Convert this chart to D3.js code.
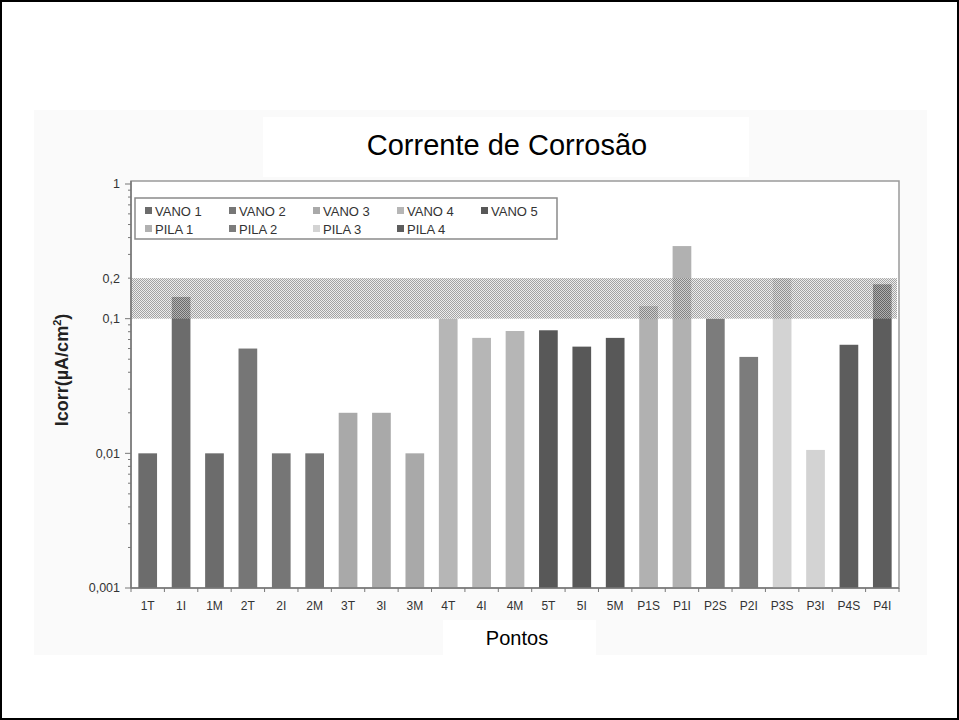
<!DOCTYPE html>
<html>
<head>
<meta charset="utf-8">
<script src="https://cdn.jsdelivr.net/npm/d3@7"></script>
<style>
  html, body { margin: 0; padding: 0; background: #fff; }
  svg { display: block; }
  text { font-family: Arial, "Liberation Sans", sans-serif; }
</style>
</head>
<body>
<svg id="chart" width="959" height="720"></svg>
<script>
// Measurement points along the bridge
const categories = ["1T","1I","1M","2T","2I","2M","3T","3I","3M","4T","4I","4M","5T","5I","5M","P1S","P1I","P2S","P2I","P3S","P3I","P4S","P4I"];
// Group (span / pier) each point belongs to
const groupOf = ["VANO 1","VANO 1","VANO 1","VANO 2","VANO 2","VANO 2","VANO 3","VANO 3","VANO 3","VANO 4","VANO 4","VANO 4","VANO 5","VANO 5","VANO 5","PILA 1","PILA 1","PILA 2","PILA 2","PILA 3","PILA 3","PILA 4","PILA 4"];
// Corrosion current density, µA/cm²
const icorr = [0.01,0.145,0.01,0.06,0.01,0.01,0.02,0.02,0.01,0.1,0.072,0.081,0.082,0.062,0.072,0.124,0.346,0.1,0.052,0.2,0.0106,0.064,0.18];
// Legend order and fills
const groups = ["VANO 1","VANO 2","VANO 3","VANO 4","VANO 5","PILA 1","PILA 2","PILA 3","PILA 4"];
const groupColors = ["#6c6c6c","#767676","#a9a9a9","#b6b6b6","#585858","#b1b1b1","#7c7c7c","#d3d3d3","#5d5d5d"];
// Y axis labels and the shaded reference band
const yTickValues = [0.001,0.01,0.1,0.2,1];
const yTickLabels = ["0,001","0,01","0,1","0,2","1"];
const band = [0.1, 0.2];

const svg = d3.select("#chart");
const W = 959, H = 720;

// Outer frame
svg.append("rect").attr("x",1).attr("y",1).attr("width",W-2).attr("height",H-2)
  .attr("fill","#fff").attr("stroke","#000").attr("stroke-width",2);

// Light chart panel
svg.append("rect").attr("x",34).attr("y",110).attr("width",893).attr("height",545).attr("fill","#fafafa");
// White boxes behind title and axis title
svg.append("rect").attr("x",263).attr("y",117).attr("width",486).attr("height",60).attr("fill","#fff");
svg.append("rect").attr("x",443).attr("y",620).attr("width",153).attr("height",35).attr("fill","#fff");

const m = {left:131, right:899, top:184, bottom:588};

const x = d3.scaleBand().domain(categories).range([m.left, m.right]).paddingInner(0.44).paddingOuter(0.22);
const y = d3.scaleLog().domain([0.001, 1]).range([m.bottom, m.top]);
const color = d3.scaleOrdinal().domain(groups).range(groupColors);

// Plot area background and frame
svg.append("rect").attr("x",m.left).attr("y",181).attr("width",m.right-m.left).attr("height",m.bottom-181)
  .attr("fill","#fff").attr("stroke","#9a9a9a").attr("stroke-width",1.5);

// Bars
svg.append("g").selectAll("rect").data(categories).join("rect")
  .attr("x", d => x(d))
  .attr("width", x.bandwidth())
  .attr("y", (d,i) => y(icorr[i]))
  .attr("height", (d,i) => y(0.001) - y(icorr[i]))
  .attr("fill", (d,i) => color(groupOf[i]));

// Dotted hatch pattern for the reference band
const defs = svg.append("defs");
const pat = defs.append("pattern").attr("id","dots").attr("width",2).attr("height",2).attr("patternUnits","userSpaceOnUse");
pat.append("rect").attr("x",0).attr("y",0).attr("width",1).attr("height",1).attr("fill","#6a6a6a");
pat.append("rect").attr("x",1).attr("y",1).attr("width",1).attr("height",1).attr("fill","#6a6a6a");
pat.append("rect").attr("x",1).attr("y",0).attr("width",1).attr("height",1).attr("fill","#e2e2e2");
pat.append("rect").attr("x",0).attr("y",1).attr("width",1).attr("height",1).attr("fill","#e2e2e2");

svg.append("rect").attr("x",m.left).attr("width",m.right-m.left-2)
  .attr("y", y(band[1])).attr("height", y(band[0]) - y(band[1]))
  .attr("fill","url(#dots)").attr("opacity",0.62);

// Y axis: decade labels plus minor ticks
const minor = [];
for (let e = -3; e < 0; e++) for (let k = 2; k <= 9; k++) minor.push(k * Math.pow(10, e));
const yAxis = svg.append("g").attr("transform",`translate(${m.left},0)`);
yAxis.append("line").attr("y1",181).attr("y2",m.bottom).attr("stroke","#777").attr("stroke-width",1.5);
yAxis.selectAll("line.minor").data(minor).join("line").attr("class","minor")
  .attr("x1",-3).attr("x2",0).attr("y1",d=>y(d)).attr("y2",d=>y(d)).attr("stroke","#777");
yAxis.selectAll("line.major").data([0.001,0.01,0.1,1]).join("line").attr("class","major")
  .attr("x1",-6).attr("x2",0).attr("y1",d=>y(d)).attr("y2",d=>y(d)).attr("stroke","#777");
yAxis.selectAll("text").data(yTickValues).join("text")
  .attr("x",-11).attr("y",d=>y(d)).attr("dy","0.35em").attr("text-anchor","end")
  .attr("font-size",12.5).attr("fill","#333")
  .text((d,i)=>yTickLabels[i]);

// X axis
const xAxis = svg.append("g").attr("transform",`translate(0,${m.bottom})`);
xAxis.append("line").attr("x1",m.left).attr("x2",m.right).attr("stroke","#777").attr("stroke-width",1.5);
const bounds = d3.range(categories.length + 1).map(i => m.left + (m.right - m.left) * i / categories.length);
xAxis.selectAll("line.tick").data(bounds).join("line").attr("class","tick")
  .attr("x1",d=>d).attr("x2",d=>d).attr("y1",0).attr("y2",4).attr("stroke","#777");
xAxis.selectAll("text").data(categories).join("text")
  .attr("x", d => x(d) + x.bandwidth()/2).attr("y",22)
  .attr("text-anchor","middle").attr("font-size",12).attr("fill","#333")
  .text(d => d);

// Titles
svg.append("text").attr("x",507).attr("y",155).attr("text-anchor","middle")
  .attr("font-size",29).attr("fill","#000").text("Corrente de Corrosão");
svg.append("text").attr("x",517).attr("y",645).attr("text-anchor","middle")
  .attr("font-size",20).attr("fill","#000").text("Pontos");
const yt = svg.append("text").attr("transform","translate(68,370) rotate(-90)")
  .attr("text-anchor","middle").attr("font-size",18).attr("font-weight","bold").attr("fill","#222");
yt.append("tspan").text("Icorr(µA/cm");
yt.append("tspan").attr("dy",-7).attr("font-size",11).text("2");
yt.append("tspan").attr("dy",7).text(")");

// Legend
const lg = svg.append("g");
lg.append("rect").attr("x",135).attr("y",198).attr("width",422).attr("height",41)
  .attr("fill","#fff").attr("stroke","#8a8a8a").attr("stroke-width",1.5);
const colX = [145, 229, 313, 397, 481];
lg.selectAll("g.item").data(groups).join("g").attr("class","item")
  .attr("transform",(d,i)=>`translate(${colX[i%5]},${i<5 ? 211 : 229})`)
  .each(function(d,i){
    const g = d3.select(this);
    g.append("rect").attr("x",0).attr("y",-4).attr("width",7).attr("height",7).attr("fill",groupColors[i]);
    g.append("text").attr("x",10).attr("dy","0.35em").attr("font-size",13).attr("fill","#333").text(d);
  });
</script>
</body>
</html>
